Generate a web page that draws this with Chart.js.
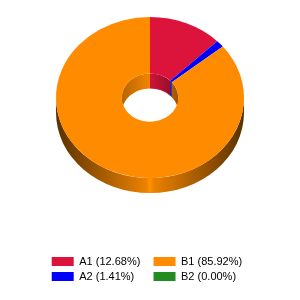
<!DOCTYPE html>
<html>
<head>
<meta charset="utf-8">
<script src="https://cdn.jsdelivr.net/npm/chart.js@4.4.1/dist/chart.umd.min.js"></script>
<style>
	body { margin: 0; background: #fff; }
</style>
</head>
<body>
<canvas id="myChart" width="300" height="300"></canvas>
<script>
// slices go clockwise from 12 o'clock
var categories = ["A1", "A2", "B1", "B2"];
var values = [12.68, 1.41, 85.92, 0.00];
var colors = ["#DC143C", "#0000FF", "#FF8C00", "#228B22"];

// legend reads across in two columns: A1 B1 / A2 B2
var legendOrder = [0, 2, 1, 3];
// trailing spaces so both columns line up
var legendPad = ["   ", "     ", "  ", "    "];

var tilt = 0.857;   // squash of the top face
var depth = 15;     // thickness of the ring


function shade(hex, f) {
	var n = parseInt(hex.slice(1), 16);
	var r = Math.min(255, Math.round(((n >> 16) & 255) * f));
	var g = Math.min(255, Math.round(((n >> 8) & 255) * f));
	var b = Math.min(255, Math.round((n & 255) * f));
	return "rgb(" + r + "," + g + "," + b + ")";
}

function wallFill(ctx, x0, x1, color, stops) {
	var grad = ctx.createLinearGradient(x0, 0, x1, 0);
	stops.forEach(function(s) {
		grad.addColorStop(s[0], shade(color, s[1]));
	});
	return grad;
}

function band(ctx, cx, cy, rad, a1, a2) {
	ctx.beginPath();
	ctx.ellipse(cx, cy, rad, rad * tilt, 0, a1, a2);
	ctx.ellipse(cx, cy + depth, rad, rad * tilt, 0, a2, a1, true);
	ctx.closePath();
}

// draws the side walls, then squashes the doughnut itself into an ellipse
var tiltPlugin = {
	id: "tilt",
	beforeDatasetsDraw: function(chart) {
		var ctx = chart.ctx;
		var meta = chart.getDatasetMeta(0);
		var first = meta.data[0];
		var R = first.outerRadius, r = first.innerRadius;
		var cx = first.x;
		var cy = chart.chartArea.top + R * tilt;

		meta.data.forEach(function(arc, i) {
			var color = colors[i];
			// outer wall, front half
			var a1 = Math.max(arc.startAngle, 0);
			var a2 = Math.min(arc.endAngle, Math.PI);
			if (a2 > a1) {
				band(ctx, cx, cy, R, a1, a2);
				ctx.fillStyle = wallFill(ctx, cx - R, cx + R, color,
					[[0, 0.35], [0.25, 0.65], [0.48, 0.92], [0.5, 1.05], [0.52, 0.92], [0.75, 0.65], [1, 0.35]]);
				ctx.fill();
			}
			// inner wall, back half of the hole
			[[-Math.PI / 2, 0], [Math.PI, 1.5 * Math.PI]].forEach(function(rng) {
				var b1 = Math.max(arc.startAngle, rng[0]);
				var b2 = Math.min(arc.endAngle, rng[1]);
				if (b2 > b1) {
					band(ctx, cx, cy, r, b1, b2);
					ctx.fillStyle = wallFill(ctx, cx - r, cx + r, color,
						[[0, 0.72], [0.5, 0.95], [1, 0.6]]);
					ctx.fill();
				}
			});
		});

		ctx.save();
		ctx.translate(0, cy);
		ctx.scale(1, tilt);
		ctx.translate(0, -first.y);
	},
	afterDatasetsDraw: function(chart) {
		chart.ctx.restore();
	}
};


var data = {
	labels: categories,
	datasets: [
		{
			data: values,
			backgroundColor: colors,
			borderWidth: 0,
			clip: false
		}
	]
};

var options = {
	responsive: false,
	animation: false,
	events: [],
	radius: 94,
	cutout: "30%",
	layout: { padding: { top: 17, left: 10, right: 10, bottom: 8 } },
	plugins: {
		tooltip: { enabled: false },
		legend: {
			position: "bottom",
			labels: {
				boxWidth: 22,
				boxHeight: 9,
				padding: 4,
				color: "#222",
				font: { family: "'Liberation Sans', Arial, sans-serif", size: 11 },
				generateLabels: function(chart) {
					return legendOrder.map(function(i) {
						return {
							text: categories[i] + " (" + values[i].toFixed(2) + "%)" + legendPad[i],
							fillStyle: colors[i],
							strokeStyle: colors[i],
							lineWidth: 0,
							hidden: false,
							index: i
						};
					});
				}
			}
		}
	}
};

let ctx = document.getElementById("myChart").getContext("2d");
let myChart = new Chart(ctx, {
	type: "doughnut",
	data: data,
	options: options,
	plugins: [tiltPlugin]
});
</script>
</body>
</html>
